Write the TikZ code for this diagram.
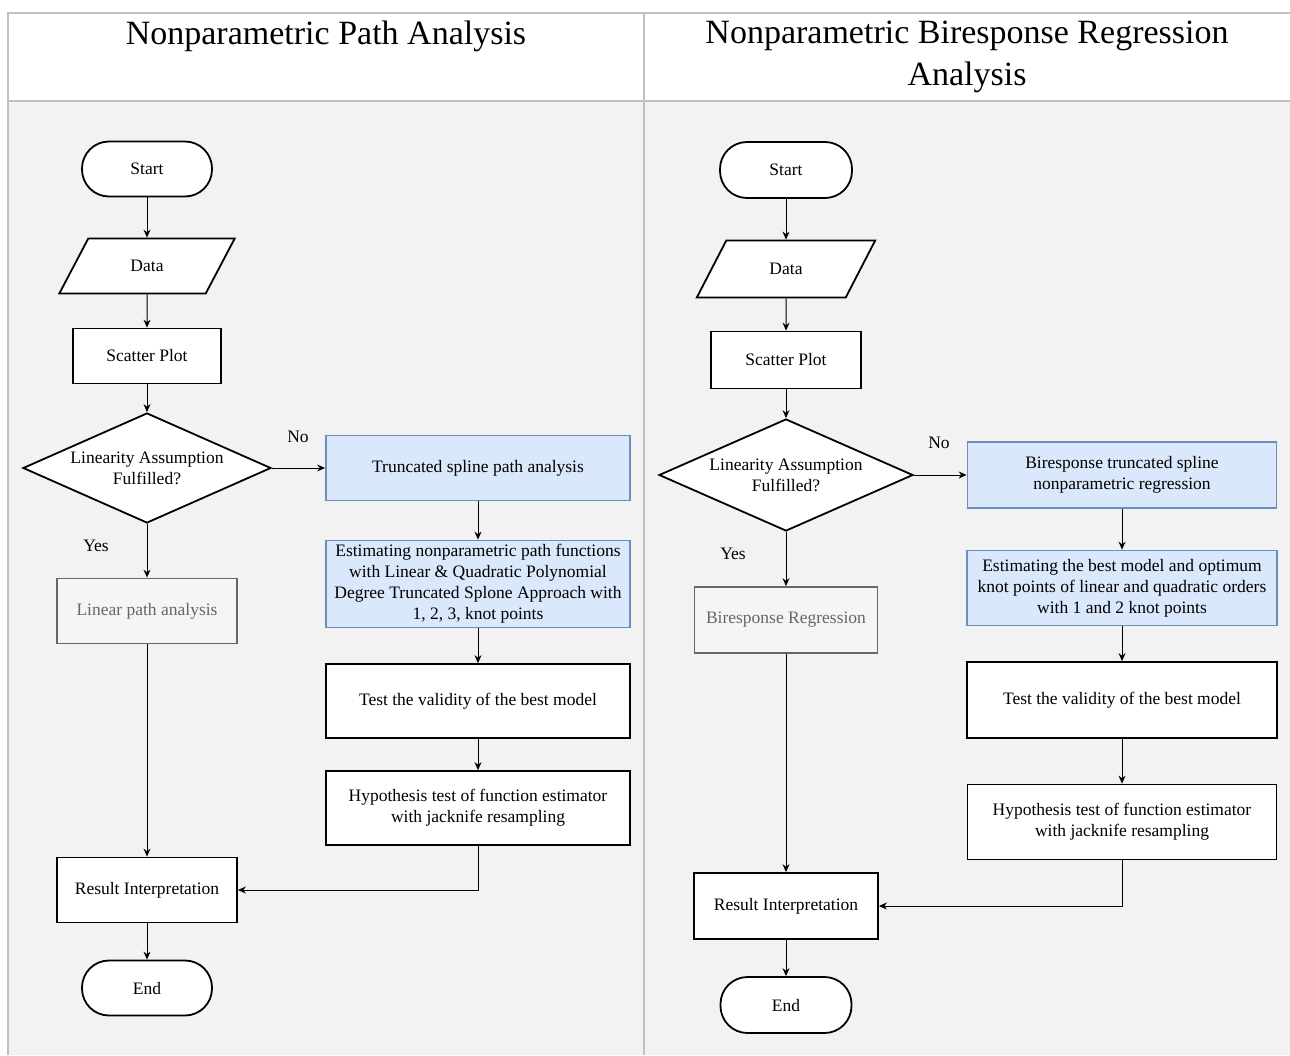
\documentclass[tikz,border=0pt]{standalone}
\usepackage{fontspec}
\setmainfont{Liberation Serif}
\usetikzlibrary{shapes.geometric, arrows.meta}

\definecolor{panelgray}{HTML}{F2F2F2}
\definecolor{framegray}{HTML}{C0C0C0}
\definecolor{blueFill}{HTML}{DAE8FC}
\definecolor{blueLine}{HTML}{6C8EBF}
\definecolor{grayFill}{HTML}{F5F5F5}
\definecolor{grayLine}{HTML}{666666}

\tikzset{
	base/.style = {font = \fontsize{17.5}{21}\selectfont, align = center, inner sep = 0pt},
	terminal/.style = {base, draw, line width = 1.8pt, fill = white, rounded corners = 27pt, minimum width = 130pt, minimum height = 55pt},
	io/.style = {base, draw, line width = 1.8pt, fill = white, trapezium, trapezium left angle = 55, trapezium right angle = 125, trapezium stretches = true, minimum width = 176pt, minimum height = 55pt},
	decision/.style = {base, draw, line width = 1.8pt, fill = white, diamond, aspect = 2.25, minimum width = 248pt, minimum height = 110pt},
	process/.style = {base, draw, line width = 1.8pt, fill = white, minimum width = 304pt, minimum height = 74pt},
	bluebox/.style = {base, draw = blueLine, line width = 1.8pt, fill = blueFill, minimum width = 304pt},
	graybox/.style = {base, draw = grayLine, line width = 1.8pt, fill = grayFill, text = grayLine, minimum width = 180pt, minimum height = 65pt},
	flow/.style = {line width = 1pt, -{Stealth[length = 8pt, width = 7pt]}},
	title/.style = {font = \fontsize{34}{42}\selectfont, align = center}
}

\begin{document}
\begin{tikzpicture}[x = 1pt, y = -1pt]
	\useasboundingbox (0, 0) rectangle (1290, 1055);
	
	\fill[white] (8, 13) rectangle (1290, 101);
	\fill[panelgray] (8, 101) rectangle (1290, 1055);
	\draw[framegray, line width = 2pt] (1290, 13) -- (8, 13) -- (8, 1055);
	\draw[framegray, line width = 2pt] (8, 101) -- (1290, 101);
	\draw[framegray, line width = 2pt] (644, 13) -- (644, 1055);
	
	\node[title] (titleL) at (326, 36) {Nonparametric Path Analysis};
	\node[title] (titleR) at (967, 57) {Nonparametric Biresponse Regression\\Analysis};
	
	\node[terminal] (startL) at (147, 169) {Start};
	\node[io] (dataL) at (147, 266) {Data};
	\node[process, minimum width = 148pt, minimum height = 55pt] (scatterL) at (147, 356) {Scatter Plot};
	\node[decision] (decL) at (147, 468) {Linearity Assumption\\Fulfilled?};
	\node[bluebox, minimum height = 65pt] (truncL) at (478, 468) {Truncated spline path analysis};
	\node[bluebox, minimum height = 87pt] (estL) at (478, 584) {Estimating nonparametric path functions\\with Linear \& Quadratic Polynomial\\Degree Truncated Splone Approach with\\1, 2, 3, knot points};
	\node[graybox] (linL) at (147, 611) {Linear path analysis};
	\node[process] (testL) at (478, 701) {Test the validity of the best model};
	\node[process] (hypL) at (478, 808) {Hypothesis test of function estimator\\with jacknife resampling};
	\node[process, minimum width = 180pt, minimum height = 65pt] (resL) at (147, 890) {Result Interpretation};
	\node[terminal] (endL) at (147, 988) {End};
	\node[base] (noL) at (298, 437) {No};
	\node[base] (yesL) at (96, 546) {Yes};
	
	\draw[flow] (startL) -- (dataL);
	\draw[flow] (dataL) -- (scatterL);
	\draw[flow] (scatterL) -- (decL);
	\draw[flow] (decL) -- (truncL);
	\draw[flow] (decL) -- (linL);
	\draw[flow] (truncL) -- (estL);
	\draw[flow] (estL) -- (testL);
	\draw[flow] (testL) -- (hypL);
	\draw[flow] (hypL.south) |- (resL.east);
	\draw[flow] (linL) -- (resL);
	\draw[flow] (resL) -- (endL);
	
	\node[terminal, minimum width = 132pt, minimum height = 56pt] (startR) at (786, 170) {Start};
	\node[io, minimum width = 179pt, minimum height = 57pt] (dataR) at (786, 269) {Data};
	\node[process, minimum width = 150pt, minimum height = 57pt] (scatterR) at (786, 360) {Scatter Plot};
	\node[decision, minimum width = 254pt, minimum height = 112pt] (decR) at (786, 475) {Linearity Assumption\\Fulfilled?};
	\node[bluebox, minimum width = 309pt, minimum height = 66pt] (truncR) at (1122, 475) {Biresponse truncated spline\\nonparametric regression};
	\node[bluebox, minimum width = 310pt, minimum height = 75pt] (estR) at (1122, 588) {Estimating the best model and optimum\\knot points of linear and quadratic orders\\with 1 and 2 knot points};
	\node[graybox, minimum width = 183pt, minimum height = 66pt] (linR) at (786, 620) {Biresponse Regression};
	\node[process, minimum width = 310pt, minimum height = 76pt] (testR) at (1122, 700) {Test the validity of the best model};
	\node[process, minimum width = 309pt, minimum height = 75pt] (hypR) at (1122, 822) {Hypothesis test of function estimator\\with jacknife resampling};
	\node[process, minimum width = 184pt, minimum height = 66pt] (resR) at (786, 906) {Result Interpretation};
	\node[terminal, minimum width = 131pt, minimum height = 56pt] (endR) at (786, 1005) {End};
	\node[base] (noR) at (939, 443) {No};
	\node[base] (yesR) at (733, 554) {Yes};
	
	\draw[flow] (startR) -- (dataR);
	\draw[flow] (dataR) -- (scatterR);
	\draw[flow] (scatterR) -- (decR);
	\draw[flow] (decR) -- (truncR);
	\draw[flow] (decR) -- (linR);
	\draw[flow] (truncR) -- (estR);
	\draw[flow] (estR) -- (testR);
	\draw[flow] (testR) -- (hypR);
	\draw[flow] (hypR.south) |- (resR.east);
	\draw[flow] (linR) -- (resR);
	\draw[flow] (resR) -- (endR);
\end{tikzpicture}
\end{document}
